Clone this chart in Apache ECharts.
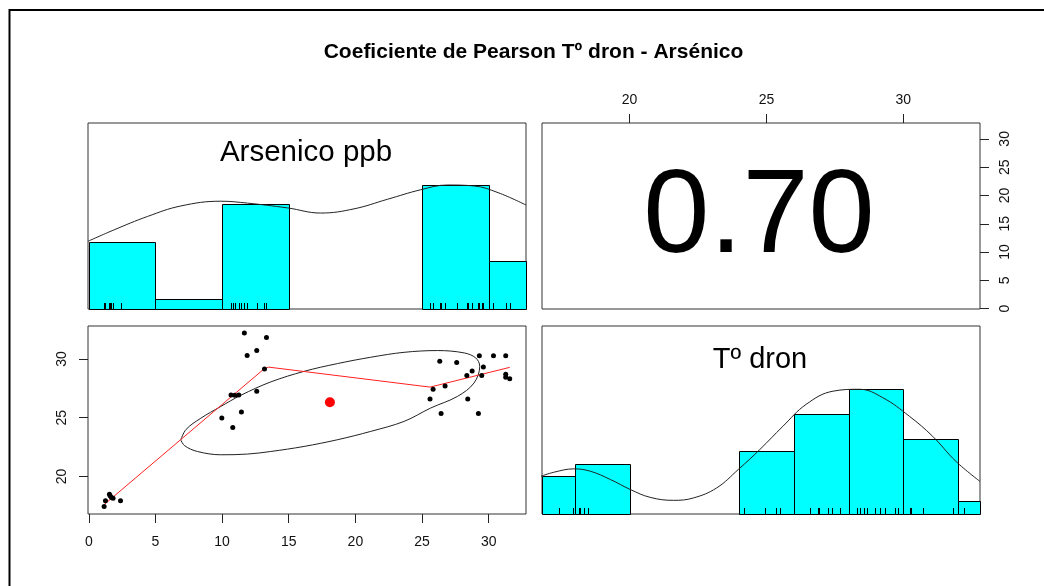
<!DOCTYPE html>
<html>
<head>
<meta charset="utf-8">
<script src="https://cdn.jsdelivr.net/npm/echarts@6/dist/echarts.min.js"></script>
<style>
html,body{margin:0;padding:0;background:#fff;}
#chart{width:1044px;height:586px;}
</style>
</head>
<body>
<div id="chart"></div>
<script>
// ---- data ----
const titleText = 'Coeficiente de Pearson Tº dron - Arsénico';
const varNames = ['Arsenico ppb', 'Tº dron'];
const corrText = '0.70';

// paired observations (x = Arsenico ppb, y = Tº dron)
const arsenico = [1.15, 1.25, 2.38, 1.55, 1.60, 1.70, 1.82,
  9.98,
  10.67, 10.95, 11.25, 10.80, 11.45, 11.67, 11.88, 12.60, 12.60, 13.18, 13.33,
  26.33, 27.60, 29.30, 29.60, 28.76, 28.36, 29.48, 25.83, 26.73, 25.60, 28.43, 26.43, 29.23,
  30.36, 31.28, 31.28, 31.28, 31.58];
const tdron = [17.43, 17.92, 17.92, 18.49, 18.35, 18.20, 18.15,
  24.96,
  26.93, 26.90, 26.93, 24.17, 25.48, 32.20, 30.28, 30.71, 27.24, 29.15, 31.82,
  29.80, 29.70, 30.26, 29.32, 28.98, 28.58, 28.58, 27.41, 27.70, 26.59, 26.59, 25.36, 25.36,
  30.26, 30.26, 28.69, 28.43, 28.32];

// histogram bins and counts
const arsBreaks = [0, 5, 10, 15, 20, 25, 30, 35];
const arsCounts = [7, 1, 11, 0, 0, 13, 5];
const tBreaks = [16, 18, 20, 22, 24, 26, 28, 30, 32, 34];
const tCounts = [3, 4, 0, 0, 5, 8, 10, 6, 1];

// density curves (in count units)
const arsDensity = [[-0.06,7.1],[1.9,8.3],[4.4,9.7],[6.9,10.8],[9.9,11.3],[11.9,11.1],[14.9,10.6],[17.4,10.06],[19.9,10.5],[22.4,11.5],[24.9,12.5],[26.9,13.0],[28.9,12.9],[30.7,12.2],[32.8,10.9]];
const tDensity = [[16.75,3.0],[17.23,3.33],[17.96,3.6],[18.57,3.41],[19.3,2.75],[20.03,1.95],[20.75,1.33],[21.6,1.09],[22.33,1.28],[23.18,2.08],[23.97,3.55],[24.76,5.15],[25.6,7.0],[26.45,8.75],[27.43,9.8],[28.4,9.95],[29.25,9.28],[30.22,7.8],[31.07,6.2],[31.92,4.2],[32.8,2.6]];

// correlation ellipse and lowess smoother
const ellipsePts = [[6.9,23.1],[7.3,24.0],[8.4,24.95],[9.9,25.95],[11.4,26.9],[13.65,28.04],[16.15,28.94],[18.65,29.6],[21.15,30.14],[23.65,30.56],[26.16,30.71],[28.16,30.51],[29.03,30.08],[29.33,29.37],[28.9,27.95],[27.66,26.81],[25.65,25.82],[23.65,24.68],[21.15,23.83],[18.65,23.12],[16.15,22.55],[13.65,22.12],[11.9,21.9],[9.9,21.84],[8.15,22.12],[7.2,22.6],[6.9,23.1]];
const lowessPts = [[1.15,17.6],[13.15,29.15],[13.5,29.3],[25.6,27.6],[31.58,29.28]];

// axis ticks
const arsTicks = [0, 5, 10, 15, 20, 25, 30];
const tTicks = [20, 25, 30];

// ---- chart ----
const FONT = "'Liberation Sans', Arial, sans-serif";
const chart = echarts.init(document.getElementById('chart'), null, {renderer: 'canvas'});

const pairs = arsenico.map((v, i) => [v, tdron[i]]);
const meanX = arsenico.reduce((a, b) => a + b, 0) / arsenico.length;
const meanY = tdron.reduce((a, b) => a + b, 0) / tdron.length;

function histData(breaks, counts) {
  const out = [];
  counts.forEach((c, i) => { if (c > 0) out.push([breaks[i], breaks[i + 1], c]); });
  return out;
}

function histSeries(idx, breaks, counts) {
  return {
    type: 'custom', xAxisIndex: idx, yAxisIndex: idx, silent: true,
    data: histData(breaks, counts),
    encode: {x: [0, 1], y: 2},
    renderItem: function (params, api) {
      const cs = params.coordSys;
      const a = api.coord([api.value(0), api.value(2)]);
      const b = api.coord([api.value(1), 0]);
      let x0 = Math.max(a[0], cs.x), x1 = Math.min(b[0], cs.x + cs.width);
      return {
        type: 'rect',
        shape: {x: Math.round(x0) + 0.5, y: Math.round(a[1]) + 0.5, width: Math.round(x1) - Math.round(x0), height: Math.round(b[1]) - Math.round(a[1])},
        style: {fill: '#00FFFF', stroke: '#000', lineWidth: 1}
      };
    },
    z: 2
  };
}

function rugSeries(idx, values) {
  return {
    type: 'custom', xAxisIndex: idx, yAxisIndex: idx, silent: true,
    data: values.map(v => [v]),
    encode: {x: 0},
    renderItem: function (params, api) {
      const p = api.coord([api.value(0), 0]);
      const x = Math.round(p[0]) + 0.5;
      return {type: 'line', shape: {x1: x, y1: p[1], x2: x, y2: p[1] - 6}, style: {stroke: '#000', lineWidth: 1}};
    },
    z: 3
  };
}

const tickStyle = {lineStyle: {color: '#222', width: 1}};
const labelStyle = {fontFamily: FONT, fontSize: 14, color: '#111'};
const noLine = {show: false, onZero: false};

const option = {
  animation: false,
  backgroundColor: '#fff',
  grid: [
    {left: 88, top: 123, width: 438, height: 186, show: true, borderColor: '#333', borderWidth: 1},
    {left: 542, top: 123, width: 438, height: 186, show: true, borderColor: '#333', borderWidth: 1},
    {left: 88, top: 326, width: 438, height: 188, show: true, borderColor: '#333', borderWidth: 1},
    {left: 542, top: 326, width: 438, height: 188, show: true, borderColor: '#333', borderWidth: 1}
  ],
  xAxis: [
    {gridIndex: 0, type: 'value', min: -0.06, max: 32.8, show: false, axisLine: noLine},
    {gridIndex: 1, type: 'value', position: 'top', min: 16.8, max: 32.8,
      axisLine: noLine, splitLine: {show: false},
      axisTick: Object.assign({show: true, length: 9, inside: false, customValues: tTicks}, tickStyle),
      axisLabel: Object.assign({show: true, margin: 16, customValues: tTicks}, labelStyle)},
    {gridIndex: 2, type: 'value', position: 'bottom', min: -0.06, max: 32.8,
      axisLine: noLine, splitLine: {show: false},
      axisTick: Object.assign({show: true, length: 9, inside: false, customValues: arsTicks}, tickStyle),
      axisLabel: Object.assign({show: true, margin: 21, customValues: arsTicks}, labelStyle)},
    {gridIndex: 3, type: 'value', min: 16.8, max: 32.8, show: false, axisLine: noLine}
  ],
  yAxis: [
    {gridIndex: 0, type: 'value', min: 0, max: 19.5, show: false, axisLine: noLine},
    {gridIndex: 1, type: 'value', position: 'right', min: -0.06, max: 32.8,
      axisLine: noLine, splitLine: {show: false},
      axisTick: Object.assign({show: true, length: 9, inside: false, customValues: arsTicks}, tickStyle),
      axisLabel: Object.assign({show: true, margin: 18, rotate: 90, customValues: arsTicks}, labelStyle)},
    {gridIndex: 2, type: 'value', position: 'left', min: 16.8, max: 32.8,
      axisLine: noLine, splitLine: {show: false},
      axisTick: Object.assign({show: true, length: 9, inside: false, customValues: tTicks}, tickStyle),
      axisLabel: Object.assign({show: true, margin: 19, rotate: 90, customValues: tTicks}, labelStyle)},
    {gridIndex: 3, type: 'value', min: 0, max: 15, show: false, axisLine: noLine}
  ],
  series: [
    histSeries(0, arsBreaks, arsCounts),
    rugSeries(0, arsenico),
    {type: 'line', xAxisIndex: 0, yAxisIndex: 0, data: arsDensity, smooth: 0.4, showSymbol: false, silent: true,
      lineStyle: {color: '#222', width: 1}, clip: true, z: 4},

    {type: 'scatter', xAxisIndex: 1, yAxisIndex: 1, data: [], silent: true},

    {type: 'line', xAxisIndex: 2, yAxisIndex: 2, data: ellipsePts, smooth: 0.35, showSymbol: false, silent: true,
      lineStyle: {color: '#222', width: 1}, z: 3},
    {type: 'line', xAxisIndex: 2, yAxisIndex: 2, data: lowessPts, smooth: false, showSymbol: false, silent: true,
      lineStyle: {color: '#ff2020', width: 1}, z: 4},
    {type: 'scatter', xAxisIndex: 2, yAxisIndex: 2, data: pairs, symbol: 'circle', symbolSize: 5, silent: true,
      itemStyle: {color: '#000', opacity: 1}, z: 5},
    {type: 'scatter', xAxisIndex: 2, yAxisIndex: 2, data: [[meanX, meanY]], symbol: 'circle', symbolSize: 10, silent: true,
      itemStyle: {color: '#ff0000', opacity: 1}, z: 6},

    histSeries(3, tBreaks, tCounts),
    rugSeries(3, tdron),
    {type: 'line', xAxisIndex: 3, yAxisIndex: 3, data: tDensity, smooth: 0.4, showSymbol: false, silent: true,
      lineStyle: {color: '#222', width: 1}, clip: true, z: 4}
  ],
  graphic: [
    {type: 'rect', silent: true, z: 0, shape: {x: 9.5, y: 10, width: 1100, height: 700},
      style: {fill: 'none', stroke: '#000', lineWidth: 2}},
    {type: 'text', silent: true, x: 533.5, y: 52.5,
      style: {text: titleText, font: 'bold 21px ' + FONT, fill: '#000', textAlign: 'center', textVerticalAlign: 'middle'}},
    {type: 'text', silent: true, x: 306, y: 153,
      style: {text: varNames[0], font: '29.5px ' + FONT, fill: '#000', textAlign: 'center', textVerticalAlign: 'middle'}},
    {type: 'text', silent: true, x: 760, y: 360,
      style: {text: varNames[1], font: '29px ' + FONT, fill: '#000', textAlign: 'center', textVerticalAlign: 'middle'}},
    {type: 'text', silent: true, x: 759, y: 219,
      style: {text: corrText, font: '119px ' + FONT, fill: '#000', textAlign: 'center', textVerticalAlign: 'middle'}}
  ]
};
chart.setOption(option);
</script>
</body>
</html>
